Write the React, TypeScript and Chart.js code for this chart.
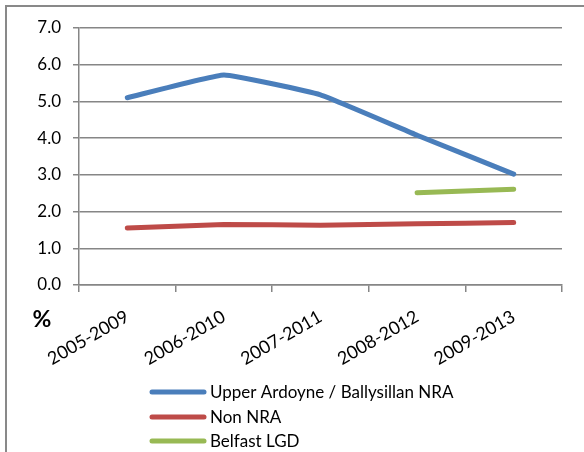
import React, { useEffect, useRef } from "react";
import { Chart, registerables } from "chart.js";

Chart.register(...registerables);

const categories = ["2005-2009", "2006-2010", "2007-2011", "2008-2012", "2009-2013"];
const upperArdoyne = [5.1, 5.72, 5.18, 4.08, 3.02];
const nonNRA = [1.55, 1.65, 1.63, 1.67, 1.7];
const belfastLGD = [null, null, null, 2.51, 2.61];
const seriesNames = ["Upper Ardoyne / Ballysillan NRA", "Non NRA", "Belfast LGD"];
const seriesColors = ["#4A7EBB", "#BE4B48", "#98B954"];
const yTicks = [0, 1, 2, 3, 4, 5, 6, 7];

const FONT = "Lato, 'Open Sans', sans-serif";

const framePlugin = {
  id: "frameAndLegend",
  afterDraw(chart: any) {
    const ctx = chart.ctx;
    ctx.save();
    // outer frame
    ctx.strokeStyle = "#898989";
    ctx.lineWidth = 2;
    ctx.beginPath();
    ctx.moveTo(6, 460);
    ctx.lineTo(6, 6);
    ctx.lineTo(600, 6);
    ctx.stroke();
    // % label
    ctx.fillStyle = "#000";
    ctx.font = `bold 23px ${FONT}`;
    ctx.textAlign = "center";
    ctx.textBaseline = "middle";
    ctx.fillText("%", 42, 320);
    // legend
    const ys = [392, 417, 441];
    ctx.font = `17px ${FONT}`;
    ctx.textAlign = "left";
    seriesNames.forEach((name, i) => {
      ctx.strokeStyle = seriesColors[i];
      ctx.lineWidth = 5;
      ctx.lineCap = "round";
      ctx.beginPath();
      ctx.moveTo(152, ys[i]);
      ctx.lineTo(204, ys[i]);
      ctx.stroke();
      ctx.fillStyle = "#000";
      ctx.fillText(name, 210, ys[i] + 1);
    });
    ctx.restore();
  },
};

export default function App() {
  const ref = useRef<HTMLCanvasElement | null>(null);
  useEffect(() => {
    if (!ref.current) return;
    const mk = (label: string, data: any[], color: string) => ({
      label,
      data,
      borderColor: color,
      backgroundColor: color,
      borderWidth: 5,
      pointRadius: 0,
      borderCapStyle: "round",
      borderJoinStyle: "round",
      tension: 0.1,
      fill: false,
    });
    const chart = new Chart(ref.current, {
      type: "line",
      data: {
        labels: categories,
        datasets: [
          mk(seriesNames[0], upperArdoyne, seriesColors[0]),
          mk(seriesNames[1], nonNRA, seriesColors[1]),
          mk(seriesNames[2], belfastLGD, seriesColors[2]),
        ] as any,
      },
      options: {
        animation: false,
        responsive: false,
        devicePixelRatio: 1,
        layout: { padding: { left: 0, top: 28, right: 22, bottom: 0 } },
        plugins: { legend: { display: false }, tooltip: { enabled: false } },
        scales: {
          x: {
            offset: true,
            grid: { offset: true, drawOnChartArea: false, drawTicks: true, tickLength: 7, color: "#868686", lineWidth: 1.5 },
            border: { color: "#868686", width: 1.5 },
            ticks: {
              font: { family: FONT, size: 18 },
              color: "#000",
              minRotation: 30,
              maxRotation: 30,
              padding: 14,
              autoSkip: false,
            },
            afterFit: (s: any) => {
              s.height = 167;
            },
          },
          y: {
            min: 0,
            max: 7,
            afterBuildTicks: (s: any) => {
              s.ticks = yTicks.map((v) => ({ value: v }));
            },
            grid: { color: "#868686", lineWidth: 1.5, tickLength: 6 },
            border: { color: "#868686", width: 1.5 },
            ticks: {
              font: { family: FONT, size: 17 },
              color: "#000",
              padding: 12,
              callback: (v: any) => Number(v).toFixed(1),
            },
            afterFit: (s: any) => {
              s.width = 79;
            },
          },
        },
      } as any,
      plugins: [framePlugin],
    });
    return () => chart.destroy();
  }, []);
  return (
    <div style={{ position: "absolute", left: 0, top: 0, width: 584, height: 452, background: "#fff" }}>
      <canvas ref={ref} width={584} height={452} style={{ display: "block" }} />
    </div>
  );
}
